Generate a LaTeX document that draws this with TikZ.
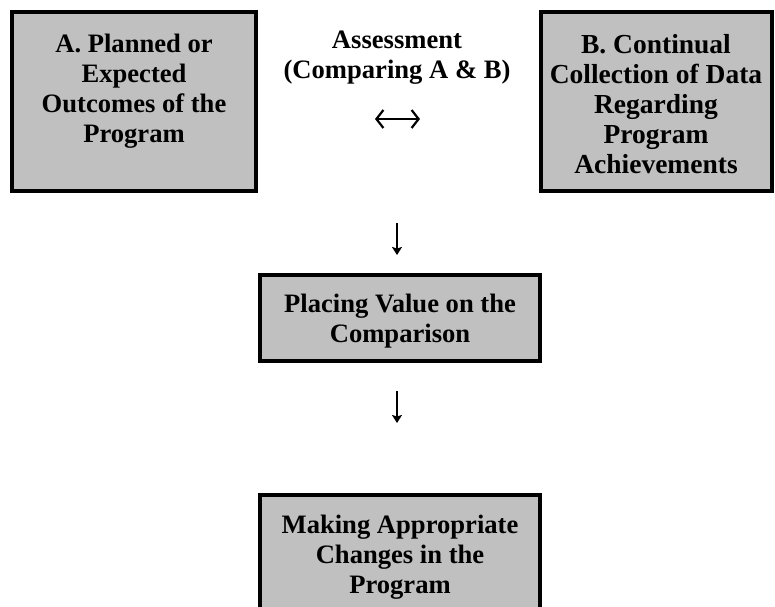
\documentclass[tikz,border=0pt]{standalone}
\usepackage{fontspec}
\setmainfont{Liberation Serif}
\usetikzlibrary{shadows,arrows.meta}
\definecolor{boxgray}{HTML}{C0C0C0}
\begin{document}
\begin{tikzpicture}[x=1pt,y=-1pt,
  box/.style={draw=black, line width=4pt, fill=boxgray, inner sep=0pt,
    drop shadow={shadow xshift=1.5pt, shadow yshift=-2pt, fill=black, opacity=1}},
  txt/.style={align=center, inner sep=0pt, font=\fontsize{26.6}{30}\selectfont\bfseries},
  txtb/.style={txt, font=\fontsize{27.5}{30}\selectfont\bfseries},
  darr/.style={line width=1.8pt, -{Stealth[length=8pt,width=10pt,inset=1.5pt]}},
  lrarr/.style={line width=2.2pt, {Straight Barb[length=7pt,width=18pt]}-{Straight Barb[length=7pt,width=18pt]}}]
\useasboundingbox (0,0) rectangle (775,606);
% boxes
\node[box, minimum width=244pt, minimum height=179pt] (A) at (134,101.5) {};
\node[box, minimum width=231pt, minimum height=179pt] (B) at (656,101.5) {};
\node[box, minimum width=280pt, minimum height=86pt] (C) at (400,318) {};
\node[box, minimum width=280pt, minimum height=160pt] (D) at (400,575) {};
% texts
\node[txt, anchor=north] (At) at ([yshift=-24pt]A.north) {A. Planned or\\Expected\\Outcomes of the\\Program};
\node[txtb, anchor=north] (Bt) at ([yshift=-24pt]B.north) {B. Continual\\Collection of Data\\Regarding\\Program\\Achievements};
\node[txt, anchor=north] (Ct) at ([yshift=-21pt]C.north) {Placing Value on the\\Comparison};
\node[txt, anchor=north] (Dt) at ([yshift=-22pt]D.north) {Making Appropriate\\Changes in the\\Program};
\node[txt, anchor=north] (M) at (397,30.5) {Assessment\\(Comparing A \& B)};
% arrows
\coordinate (lrL) at (375,119);
\coordinate (lrR) at (420,119);
\draw[lrarr] (lrL) -- (lrR);
\coordinate (d1s) at (397,223);
\coordinate (d1e) at (397,255);
\draw[darr] (d1s) -- (d1e);
\coordinate (d2s) at (397,391);
\coordinate (d2e) at (397,423);
\draw[darr] (d2s) -- (d2e);
\end{tikzpicture}
\end{document}
